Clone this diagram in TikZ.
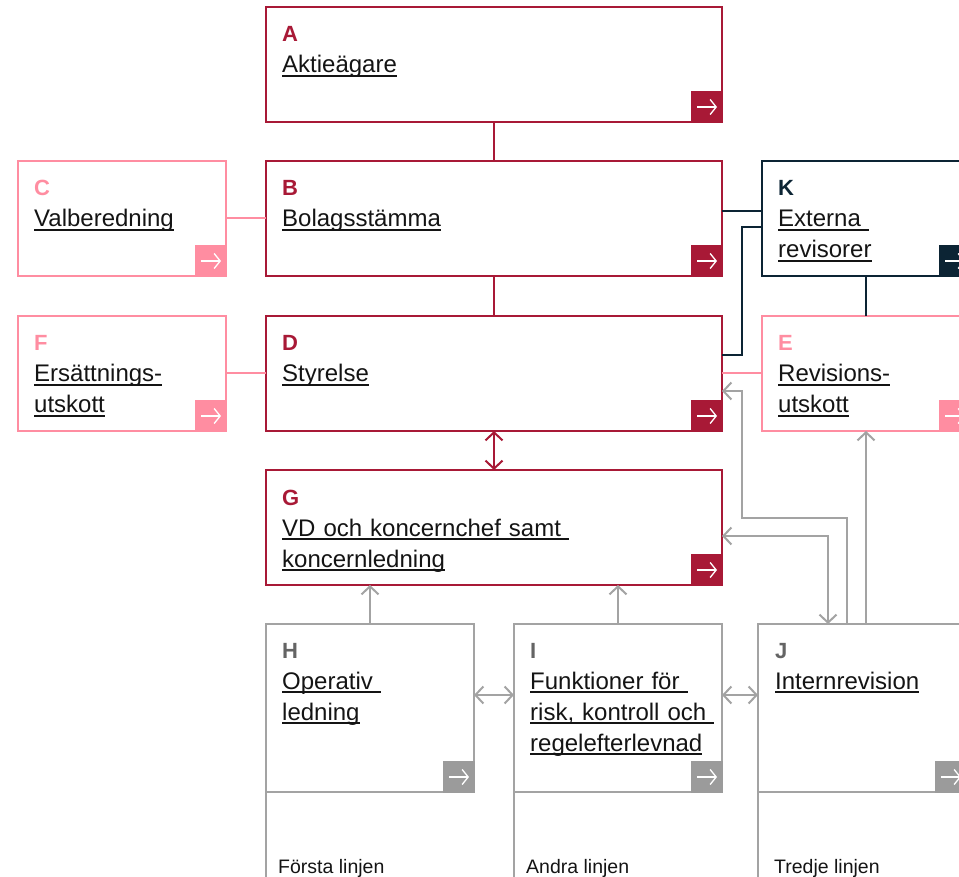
\documentclass[tikz,border=0pt]{standalone}
\usepackage{fontspec}
\setmainfont{Liberation Sans}
\usetikzlibrary{arrows.meta,positioning}

\definecolor{crim}{RGB}{168,25,54}
\definecolor{rosa}{RGB}{255,141,161}
\definecolor{navy}{RGB}{12,36,52}
\definecolor{grau}{RGB}{163,163,163}
\definecolor{grauicon}{RGB}{155,155,155}
\definecolor{graudark}{RGB}{100,100,100}
\definecolor{ink}{RGB}{20,20,20}

% underlined line of text, line at a fixed depth
\newcommand\ulx[1]{\leavevmode\setbox0\hbox{#1}\rlap{\rule[-4pt]{\wd0}{1.7pt}}\box0}
\newcommand\lett[2]{\leavevmode{\fontsize{22}{31}\selectfont\bfseries\color{#1}#2}}

\begin{document}
\begin{tikzpicture}[x=1pt, y=-1pt,
	box/.style={draw=#1, line width=2pt, anchor=north west, inner sep=0pt, outer sep=0pt},
	wide/.style={minimum width=456pt, minimum height=115pt},
	narrow/.style={minimum width=208pt, minimum height=115pt},
	tall/.style={minimum width=208pt, minimum height=168pt},
	icon/.style={fill=#1, anchor=south east, minimum size=32pt, inner sep=0pt, outer sep=0pt,
		path picture={\draw[white, line width=1.3pt, -{Straight Barb[length=6pt,width=15pt]}]
			([xshift=-10pt]path picture bounding box.center) -- ([xshift=10pt]path picture bounding box.center);}},
	txt/.style={anchor=base west, align=left, inner sep=0pt, text width=#1, text=ink,
		font=\fontsize{24}{31}\selectfont},
	lab/.style={anchor=base west, inner sep=0pt, text=ink, font=\fontsize{19.5}{22}\selectfont},
	link/.style={draw=#1, line width=2pt},
	onehead/.style={-{Straight Barb[length=8pt,width=17pt]}},
	twohead/.style={{Straight Barb[length=8pt,width=17pt]}-{Straight Barb[length=8pt,width=17pt]}}
	]
		\clip (0,0) rectangle (959,877);

		% boxes
		\node[box=crim, wide] (A) at (266,7) {};
		\node[box=crim, wide] (B) at (266,161) {};
		\node[box=rosa, narrow] (C) at (18,161) {};
		\node[box=navy, narrow] (K) at (762,161) {};
		\node[box=crim, wide] (D) at (266,316) {};
		\node[box=rosa, narrow] (F) at (18,316) {};
		\node[box=rosa, narrow] (E) at (762,316) {};
		\node[box=crim, wide] (G) at (266,470) {};
		\node[box=grau, tall] (H) at (266,624) {};
		\node[box=grau, tall] (I) at (514,624) {};
		\node[box=grau, tall] (J) at (758,624) {};

		% arrow squares
		\foreach \b/\c in {A/crim, B/crim, C/rosa, K/navy, D/crim, F/rosa, E/rosa, G/crim,
			H/grauicon, I/grauicon, J/grauicon}
			\node[icon=\c] (\b-icon) at ([shift={(1,1)}]\b.south east) {};

		% texts
		\node[txt=420pt] (A-txt) at ([shift={(16,35)}]A.north west) {\lett{crim}{A}\\\ulx{Aktieägare}};
		\node[txt=420pt] (B-txt) at ([shift={(16,35)}]B.north west) {\lett{crim}{B}\\\ulx{Bolagsstämma}};
		\node[txt=185pt] (C-txt) at ([shift={(16,35)}]C.north west) {\lett{rosa}{C}\\\ulx{Valberedning}};
		\node[txt=185pt] (K-txt) at ([shift={(16,35)}]K.north west) {\lett{navy}{K}\\\ulx{Externa\ }\\\ulx{revisorer}};
		\node[txt=420pt] (D-txt) at ([shift={(16,35)}]D.north west) {\lett{crim}{D}\\\ulx{Styrelse}};
		\node[txt=185pt] (F-txt) at ([shift={(16,35)}]F.north west) {\lett{rosa}{F}\\\ulx{Ersättnings-}\\\ulx{utskott}};
		\node[txt=185pt] (E-txt) at ([shift={(16,35)}]E.north west) {\lett{rosa}{E}\\\ulx{Revisions-}\\\ulx{utskott}};
		\node[txt=420pt] (G-txt) at ([shift={(16,35)}]G.north west) {\lett{crim}{G}\\\ulx{VD och koncernchef samt\ }\\\ulx{koncernledning}};
		\node[txt=185pt] (H-txt) at ([shift={(16,34)}]H.north west) {\lett{graudark}{H}\\\ulx{Operativ\ }\\\ulx{ledning}};
		\node[txt=185pt] (I-txt) at ([shift={(16,34)}]I.north west) {\lett{graudark}{I}\\\ulx{Funktioner för\ }\\\ulx{risk, kontroll och\ }\\\ulx{regelefterlevnad}};
		\node[txt=185pt] (J-txt) at ([shift={(17,34)}]J.north west) {\lett{graudark}{J}\\\ulx{Internrevision}};

		% lines of defence
		\draw[link=grau] (H.south west) -- ++(0,90);
		\draw[link=grau] (I.south west) -- ++(0,90);
		\draw[link=grau] (J.south west) -- ++(0,90);
		\node[lab] (h-lab) at ([shift={(12,81)}]H.south west) {Första linjen};
		\node[lab] (i-lab) at ([shift={(12,81)}]I.south west) {Andra linjen};
		\node[lab] (j-lab) at ([shift={(16,81)}]J.south west) {Tredje linjen};

		% connectors
		\draw[link=crim] (A) -- (B);
		\draw[link=crim] (B) -- (D);
		\draw[link=crim, twohead] (D) -- (G);
		\draw[link=rosa] (C) -- (B);
		\draw[link=rosa] (F) -- (D);
		\draw[link=rosa] (D) -- (E);
		\draw[link=navy] ([yshift=7.5pt]B.east) -- ([yshift=7.5pt]K.west);
		\draw[link=navy] ([yshift=18.5pt]D.east) -- ++(20,0) |- ([yshift=-8.5pt]K.west);
		\draw[link=navy] (K) -- (E);

		\draw[link=grau, onehead] (H) -- (H |- G.south);
		\draw[link=grau, onehead] (I) -- (I |- G.south);
		\draw[link=grau, twohead] ([yshift=13pt]H.east) -- ([yshift=13pt]I.west);
		\draw[link=grau, twohead] ([yshift=13pt]I.east) -- ([yshift=13pt]J.west);
		\draw[link=grau, onehead] (E.south |- J.north) -- (E.south);
		\draw[link=grau, onehead] ([xshift=-15pt]J.north) -- ++(0,-106) -- ++(-105,0) |- ([yshift=-17.5pt]D.east);
		\draw[link=grau, twohead] ([yshift=-8.5pt]G.east) -| ([xshift=-34pt]J.north);

	\end{tikzpicture}
\end{document}
